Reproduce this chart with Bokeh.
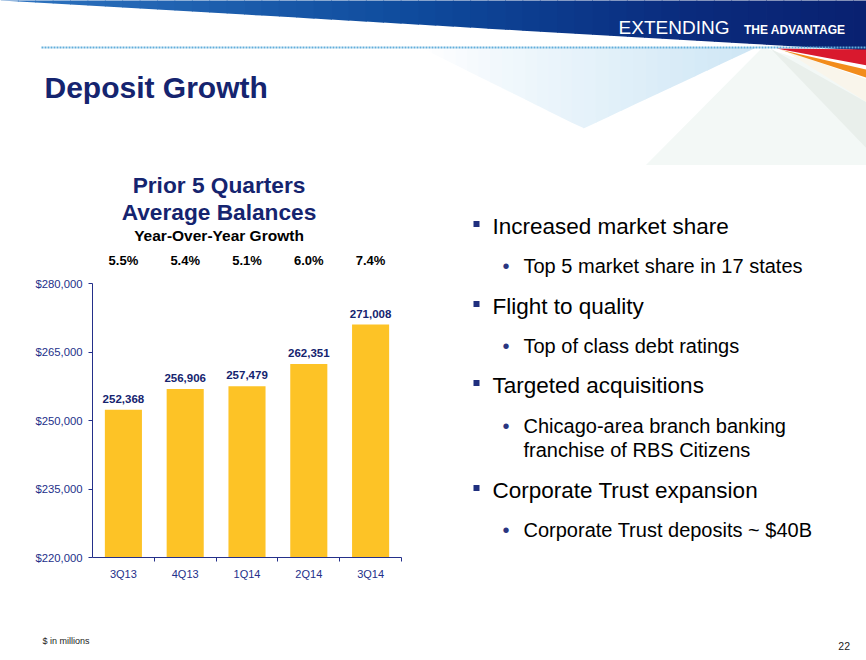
from bokeh.plotting import figure
from bokeh.layouts import column, row
from bokeh.models import (Range1d, ColumnDataSource, LabelSet,
                          NumeralTickFormatter, FixedTicker)
from bokeh.core.properties import value
from bokeh.embed import file_html
from bokeh.resources import INLINE

# ---------------- data ----------------
quarters = ["3Q13", "4Q13", "1Q14", "2Q14", "3Q14"]
balances = [252368, 256906, 257479, 262351, 271008]
yoy_growth = ["5.5%", "5.4%", "5.1%", "6.0%", "7.4%"]
y_ticks = [220000, 235000, 250000, 265000, 280000]
y_min, y_max = 220000, 280000

slide_title = "Deposit Growth"
chart_title = ["Prior 5 Quarters", "Average Balances"]
chart_subtitle = "Year-Over-Year Growth"
bullets = ["Increased market share", "Flight to quality",
           "Targeted acquisitions", "Corporate Trust expansion"]
sub_bullets = [["Top 5 market share in 17 states"],
               ["Top of class debt ratings"],
               ["Chicago-area branch banking", "franchise of RBS Citizens"],
               ["Corporate Trust deposits ~ $40B"]]
footnote = "$ in millions"
page_number = "22"

# ---------------- styles ----------------
FONT = "Liberation Sans"
NAVY = "#15246f"
AXIS_NAVY = "#24308a"
BAR = "#fdc326"

W, H = 866, 660
SPLIT_X = 460          # left column / bullets column
HEAD_Y = 165           # header bottom
TITLE_Y = 271          # chart-title block bottom
CHART_Y = 600          # chart block bottom
FRAME_L, FRAME_R, FRAME_T, FRAME_B = 92, 401, 283, 557   # chart frame on the page


def panel(x0, x1, y0, y1):
    """A figure whose data coordinates equal page pixels (y grows downward)."""
    f = figure(width=x1 - x0, height=y1 - y0,
               x_range=Range1d(x0, x1), y_range=Range1d(y1, y0),
               output_backend="svg", toolbar_location=None, min_border=0,
               x_axis_location=None, y_axis_location=None, frame_align=False)
    f.outline_line_color = None
    f.background_fill_color = "white"
    f.border_fill_color = "white"
    f.xgrid.visible = False
    f.ygrid.visible = False
    return f


def add_text(f, x, y, s, size, color="#000000", bold=False, align="left"):
    f.add_layout(LabelSet(x="x", y="y", text="t",
                          source=ColumnDataSource(dict(x=[x], y=[y], t=[s])),
                          text_font=value(FONT), text_font_size=f"{size}px",
                          text_font_style="bold" if bold else "normal",
                          text_color=color, text_align=align,
                          text_baseline="alphabetic"))


def mix(c1, c2, t):
    t = max(0.0, min(1.0, t))
    return "#%02x%02x%02x" % tuple(round(a + (b - a) * t) for a, b in zip(c1, c2))


# ---------------- header ----------------
head = panel(0, W, 0, HEAD_Y)

# pale light-blue ray (gradient strips)
L, R, V = (420.0, 47.0), (756.0, 47.0), (583.0, 128.0)
def tri_bottom(x):
    if x <= V[0]:
        return L[1] + (x - L[0]) / (V[0] - L[0]) * (V[1] - L[1])
    return V[1] - (x - V[0]) / (R[0] - V[0]) * (V[1] - R[1])
edges = [L[0] + (V[0] - L[0]) * i / 14 for i in range(14)] + \
        [V[0] + (R[0] - V[0]) * i / 14 for i in range(15)]
rxs, rys, rcs = [], [], []
for a, b in zip(edges, edges[1:]):
    t = (((a + b) / 2 - L[0]) / (R[0] - L[0])) ** 0.9
    bb = min(b + 0.6, R[0])
    rxs.append([a, bb, bb, a])
    rys.append([47, 47, tri_bottom(bb), tri_bottom(a)])
    rcs.append(mix((255, 255, 255), (206, 230, 245), t))
head.patches(rxs, rys, fill_color=rcs, line_color=None)

# pale mint, grey-green and beige rays on the right
head.patches([[762, 640, 870, 870], [770, 870, 870], [784, 870, 870]],
             [[47, 170, 170, 80], [48, 104, 152], [50, 80, 104]],
             fill_color=["#f3f8f6", "#e9efeb", "#f9f5eb"], line_color=None)

# banner with horizontal gradient (vertical strips)
stops = [(0, (46, 116, 192)), (420, (14, 74, 156)), (700, (10, 42, 124)), (870, (9, 32, 112))]
def grad(x):
    for (x0, c0), (x1, c1) in zip(stops, stops[1:]):
        if x <= x1:
            return mix(c0, c1, (x - x0) / (x1 - x0))
    return mix(stops[-1][1], stops[-1][1], 0)
n = 50
bxs, bys, bcs = [], [], []
for i in range(n):
    a = 870 * i / n
    b = 870 * (i + 1) / n
    bb = min(b + 0.8, 870)
    bxs.append([a, bb, bb, a])
    bys.append([-4, -4, 50 * bb / 866, 50 * a / 866])
    bcs.append(grad((a + b) / 2))
head.patches(bxs, bys, fill_color=bcs, line_color=None)

# red and orange streaks
head.patches([[776, 870, 870], [781, 870, 870]],
             [[48, 49, 65.5], [49.5, 70, 78.5]],
             fill_color=["#d9192e", "#f28c1c"], line_color=None)

# dotted rule
head.line([41, 870], [47, 47], line_color="#62aedb", line_width=2.2, line_dash="2 1")

add_text(head, 673.5, 33.3, "EXTENDING", 19, "#ffffff", align="center")
add_text(head, 845, 33.3, "THE ADVANTAGE", 12, "#ffffff", bold=True, align="right")
add_text(head, 44, 97.5, slide_title, 30, NAVY, bold=True)

# ---------------- chart title block ----------------
tblock = panel(0, SPLIT_X, HEAD_Y, TITLE_Y)
add_text(tblock, 218.5, 192, chart_title[0], 22.7, NAVY, bold=True, align="center")
add_text(tblock, 218.5, 219.5, chart_title[1], 22.7, NAVY, bold=True, align="center")
add_text(tblock, 218.5, 240, chart_subtitle, 15.5, "#000000", bold=True, align="center")
step = (FRAME_R - FRAME_L) / len(quarters)
pct_src = ColumnDataSource(dict(x=[FRAME_L + (i + 0.5) * step for i in range(len(quarters))],
                                y=[264.5] * len(quarters), g=yoy_growth))
tblock.add_layout(LabelSet(x="x", y="y", text="g", source=pct_src,
                           text_align="center", text_baseline="alphabetic",
                           text_font=value(FONT), text_font_size="13px",
                           text_font_style="bold", text_color="#000000"))

# ---------------- the chart ----------------
centers = [i + 0.5 for i in range(len(quarters))]
bounds = [i + 1 for i in range(len(quarters))]
chart = figure(width=SPLIT_X, height=CHART_Y - TITLE_Y,
               x_range=Range1d(0, len(quarters)), y_range=Range1d(y_min, y_max),
               output_backend="svg", toolbar_location=None, frame_align=False,
               min_border_left=FRAME_L, min_border_right=SPLIT_X - FRAME_R,
               min_border_top=FRAME_T - TITLE_Y, min_border_bottom=CHART_Y - FRAME_B)
chart.outline_line_color = None
chart.xgrid.visible = False
chart.ygrid.visible = False
chart.background_fill_color = "white"
chart.border_fill_color = "white"

src = ColumnDataSource(dict(x=centers, q=quarters, v=balances,
                            lab=[f"{v:,}" for v in balances]))
chart.vbar(x="x", top="v", bottom=y_min, width=0.6, source=src,
           fill_color=BAR, line_color=None)
chart.add_layout(LabelSet(x="x", y="v", text="lab", source=src, y_offset=7,
                          text_align="center", text_baseline="alphabetic",
                          text_font=value(FONT), text_font_size="11.5px",
                          text_font_style="bold", text_color=NAVY))

ya = chart.yaxis[0]
ya.ticker = FixedTicker(ticks=y_ticks)
ya.formatter = NumeralTickFormatter(format="$0,0")
ya.axis_line_color = AXIS_NAVY
ya.major_tick_line_color = AXIS_NAVY
ya.major_tick_out = 4
ya.major_tick_in = 0
ya.minor_tick_line_color = None
ya.major_label_standoff = 6
ya.major_label_text_font = FONT
ya.major_label_text_font_size = "11.3px"
ya.major_label_text_color = AXIS_NAVY

xa = chart.xaxis[0]
xa.ticker = FixedTicker(ticks=centers, minor_ticks=bounds)
xa.major_label_overrides = {c: q for c, q in zip(centers, quarters)}
xa.axis_line_color = AXIS_NAVY
xa.major_tick_line_color = None
xa.major_tick_out = 4
xa.major_tick_in = 0
xa.minor_tick_line_color = AXIS_NAVY
xa.minor_tick_out = 4
xa.minor_tick_in = 0
xa.major_label_standoff = 6
xa.major_label_text_font = FONT
xa.major_label_text_font_size = "11px"
xa.major_label_text_color = AXIS_NAVY

# ---------------- footer (left) ----------------
foot = panel(0, SPLIT_X, CHART_Y, H)
add_text(foot, 42, 643, footnote, 9, "#222222")

# ---------------- bullets (right) ----------------
right = panel(SPLIT_X, W, HEAD_Y, H)
main_baselines = [233, 313, 392, 497]
sub_baselines = [[272], [352], [432, 456], [536]]
sq_l, sq_r, sq_t, sq_b = [], [], [], []
for text, yb, subs, sub_y in zip(bullets, main_baselines, sub_bullets, sub_baselines):
    sq_l.append(473); sq_r.append(479); sq_t.append(yb - 12.5); sq_b.append(yb - 6.5)
    add_text(right, 492, yb, text, 22.5, "#000000")
    for k, (s, ys) in enumerate(zip(subs, sub_y)):
        if k == 0:
            add_text(right, 505.5, ys, "\u2022", 20, "#2a3580", align="center")
        add_text(right, 523, ys, s, 20, "#000000")
right.quad(left=sq_l, right=sq_r, top=sq_t, bottom=sq_b,
           fill_color="#1f2f7e", line_color=None)
add_text(right, 849.5, 649, page_number, 10.5, "#222222", align="right")

layout = column(head, row(column(tblock, chart, foot), right))
open("out.html", "w").write(file_html(layout, INLINE))
